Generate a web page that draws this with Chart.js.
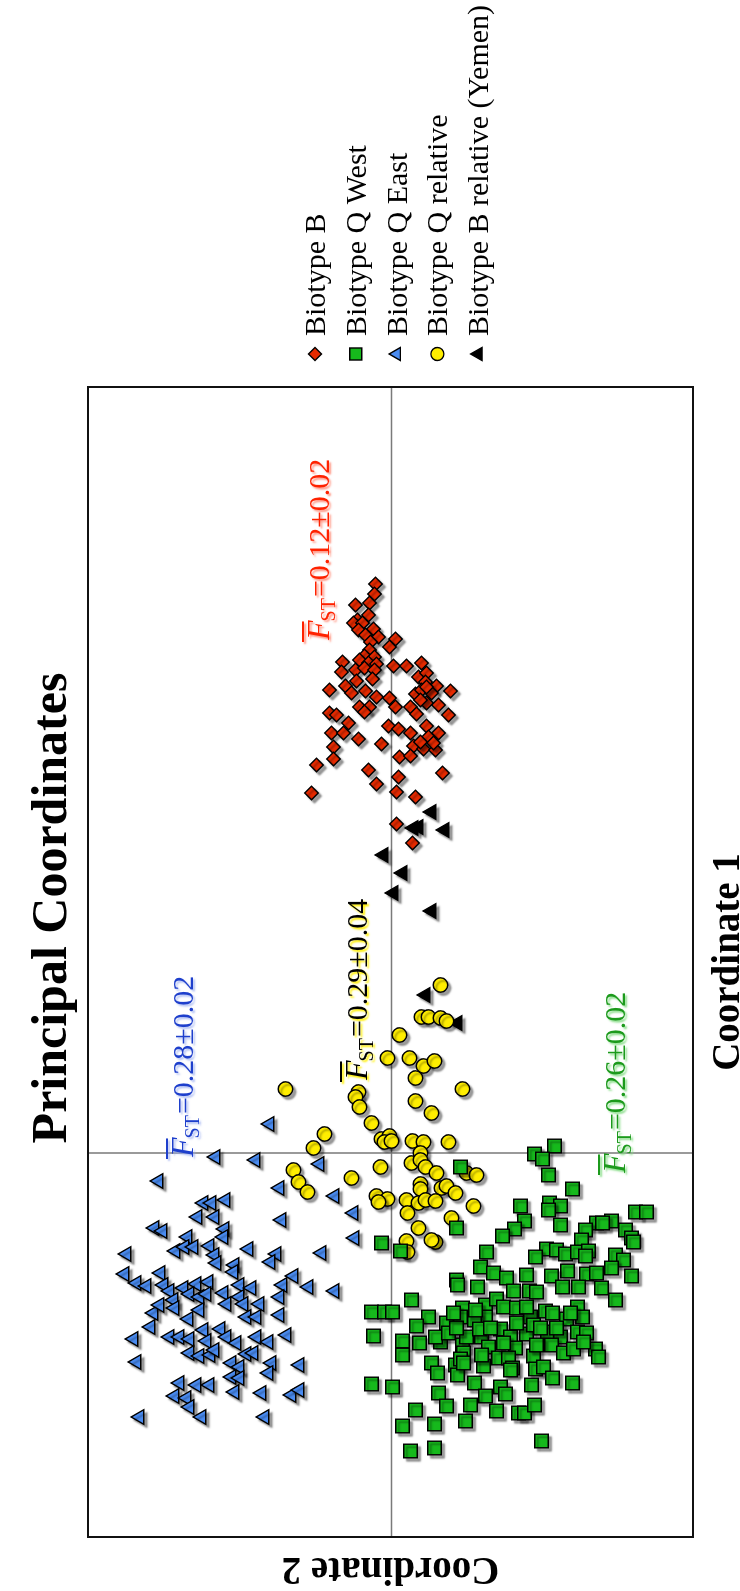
<!DOCTYPE html>
<html><head><meta charset="utf-8">
<script src="https://cdn.jsdelivr.net/npm/chart.js@4.4.1/dist/chart.umd.min.js"></script>
<style>
html,body{margin:0;padding:0;background:#fff;width:740px;height:1591px;overflow:hidden}
#wrap{position:absolute;left:0;top:0;width:1591px;height:740px;transform-origin:0 0;transform:translate(0,1591px) rotate(-90deg);}
canvas{display:block}
</style></head><body>
<div id="wrap"><canvas id="c" width="1591" height="740"></canvas></div>
<script>
// ---- data: [Coordinate 1, Coordinate 2] ----
const seriesNames = ['Biotype B','Biotype Q West','Biotype Q East','Biotype Q relative','Biotype B relative (Yemen)'];
const biotypeB = [[5.69,0.16],[5.59,0.17],[5.50,0.22],[5.48,0.36],[5.38,0.23],[5.33,0.34],[5.30,0.38],[5.30,0.29],[5.23,0.33],[5.24,0.18],[5.18,0.26],[5.16,0.13],[5.11,0.21],[5.14,-0.04],[5.06,0.02],[5.03,0.22],[4.97,0.27],[4.96,0.17],[4.93,0.32],[4.91,0.49],[4.90,0.23],[4.89,0.15],[4.87,-0.02],[4.87,-0.15],[4.90,-0.30],[4.81,0.50],[4.83,0.36],[4.85,0.27],[4.83,0.17],[4.74,0.19],[4.72,0.35],[4.67,0.46],[4.76,-0.27],[4.80,-0.35],[4.71,-0.34],[4.67,-0.45],[4.63,0.62],[4.60,0.40],[4.62,0.26],[4.56,0.15],[4.55,0.02],[4.59,-0.24],[4.63,-0.30],[4.60,-0.40],[4.62,-0.59],[4.46,0.32],[4.46,0.22],[4.46,-0.04],[4.46,-0.19],[4.50,-0.35],[4.48,-0.47],[4.40,0.62],[4.38,0.55],[4.41,0.27],[4.39,-0.25],[4.38,-0.57],[4.30,0.43],[4.20,0.60],[4.20,0.48],[4.27,0.03],[4.24,-0.07],[4.20,-0.19],[4.27,-0.35],[4.20,-0.47],[4.14,0.33],[4.09,0.10],[4.06,0.58],[4.07,-0.22],[4.16,-0.37],[4.04,-0.32],[4.03,-0.44],[3.96,-0.08],[3.97,-0.19],[3.94,0.58],[3.88,0.75],[3.83,0.23],[3.76,-0.07],[3.80,-0.51],[3.69,0.15],[3.61,-0.05],[3.56,-0.24],[3.60,0.80],[4.10,-0.42],[4.11,-0.29],[4.66,-0.35],[4.53,-0.29],[3.29,-0.05],[3.10,-0.21]];
const biotypeQWest = [[0.07,-1.63],[-0.01,-1.43],[-0.06,-1.51],[-0.22,-1.57],[-0.14,-0.69],[-0.36,-1.81],[-0.53,-1.29],[-0.50,-1.58],[-0.53,-1.69],[-0.57,-1.57],[-0.75,-0.65],[-0.68,-1.33],[-0.76,-1.23],[-0.83,-1.11],[-0.72,-1.69],[-0.59,-2.44],[-0.59,-2.55],[-0.70,-2.05],[-0.68,-2.20],[-0.70,-2.11],[-0.77,-2.34],[-0.77,-1.94],[-0.85,-2.40],[-0.89,-2.42],[-0.87,-1.90],[-0.90,0.10],[-0.98,-0.09],[-0.99,-0.95],[-0.96,-1.55],[-0.97,-1.65],[-1.01,-1.74],[-0.99,-1.86],[-0.98,-1.97],[-1.04,-1.44],[-1.02,-2.24],[-1.07,-2.32],[-1.03,-1.94],[-1.14,-0.89],[-1.20,-1.02],[-1.18,-1.76],[-1.21,-1.95],[-1.20,-2.05],[-1.15,-2.20],[-1.23,-2.40],[-1.22,-1.35],[-1.23,-1.60],[-1.27,-0.65],[-1.25,-1.15],
[-1.32,-0.66],[-1.34,-0.86],[-1.38,-1.22],[-1.38,-1.38],[-1.39,-1.45],[-1.34,-1.71],[-1.34,-1.87],[-1.35,-2.10],[-1.47,-2.24],[-1.47,-0.20],[-1.59,0.20],[-1.59,0.07],[-1.59,-0.01],[-1.64,-0.37],[-1.73,-0.25],[-1.70,-0.55],[-1.55,-0.71],[-1.64,-0.69],[-1.52,-0.94],[-1.46,-1.05],[-1.54,-1.12],[-1.64,-0.94],[-1.67,-0.83],[-1.55,-1.25],[-1.64,-1.39],[-1.58,-1.54],[-1.60,-1.61],[-1.54,-1.86],[-1.64,-1.91],[-1.66,-1.75],[-1.83,0.18],[-1.88,-0.11],[-1.90,-0.28],[-1.89,-0.49],[-1.84,-0.44],[-1.80,-0.57],[-1.92,-0.71],[-1.84,-0.75],[-1.84,-0.90],[-1.76,-0.88],[-1.94,-0.97],[-1.76,-1.09],[-1.84,-1.19],[-1.81,-1.35],[-1.72,-1.42],[-1.79,-1.56],[-1.84,-1.69],[-1.79,-1.86],[-1.80,-1.95],[-2.02,-0.11],[-2.00,-0.72],[-1.95,-1.24],[-1.92,-1.60],[-2.00,-1.72],[-1.96,-1.82],[-1.96,-2.04],[-2.04,-2.07],[-2.10,-0.40],[-2.20,-0.46],[-2.12,-0.64],[-2.06,-0.69],[-2.13,-0.92],[-2.05,-1.07],[-2.05,-1.17],[-2.15,-1.21],[-2.03,-1.42],[-2.16,-1.44],[-2.14,-1.52],[-2.25,-1.61],[-2.22,-0.66],[-2.30,-0.83],[-2.34,-1.09],[-2.41,-1.14],[-2.32,-1.40],[-2.30,-1.81],[-2.31,0.20],[-2.34,-0.01],[-2.40,-0.47],[-2.43,-0.94],[-2.52,-0.79],[-2.58,-1.05],[-2.53,-0.55],[-2.57,-0.24],[-2.60,-1.27],[-2.60,-1.33],[-2.52,-1.43],[-2.68,-0.74],[-2.71,-0.43],[-2.73,-0.11],[-2.88,-1.50],[-2.98,-0.19],[-2.95,-0.43],
[-1.75,-0.65],[-1.57,-0.84],[-1.75,-0.99],[-1.90,-1.12],[-1.70,-1.25],[-1.54,-1.35],[-1.75,-1.49],[-1.75,-1.65],[-1.60,-1.79],[-1.89,-1.92],[-1.92,-1.45],[-2.17,-1.19],[-2.02,-0.90],[-2.10,-0.72],[-1.60,-0.62]];
const biotypeQEast = [[0.29,1.22],[-0.04,1.76],[-0.07,1.36],[-0.11,0.72],[-0.28,2.33],[-0.35,1.12],[-0.50,1.88],[-0.50,1.80],[-0.47,1.66],[-0.64,1.94],[-0.64,1.77],[-0.67,1.10],[-0.75,2.37],[-0.78,2.29],[-0.76,1.67],[-0.84,2.04],[-0.84,1.68],[-1.01,2.65],[-0.98,2.16],[-0.94,2.07],[-0.94,1.98],[-0.93,1.82],[-1.02,1.77],[-0.96,1.43],[-1.01,1.15],[-1.09,1.21],[-1.00,0.70],[-1.10,1.75],[-1.12,1.57],[-1.19,1.58],[-1.21,2.67],[-1.20,2.31],[-1.30,2.55],[-1.33,2.45],[-1.32,2.28],[-1.38,2.22],[-1.35,2.08],[-1.31,1.95],[-1.29,1.83],[-1.41,2.02],[-1.40,1.68],[-1.32,1.52],[-1.35,1.40],[-1.23,0.98],[-1.32,1.09],[-1.34,0.83],[-1.44,1.12],[-1.47,2.18],[-1.44,1.92],[-1.41,1.85],[-1.44,1.52],[-1.60,2.38],[-1.52,2.32],[-1.55,2.17],[-1.57,1.92],[-1.51,1.65],[-1.51,1.48],[-1.51,1.32],[-1.64,1.45],[-1.64,1.35],[-1.62,1.12],[-1.66,2.03],[-1.74,2.41],[-1.86,2.58],[-1.84,2.22],[-1.84,2.12],[-1.86,2.02],[-1.77,1.88],[-1.76,1.71],[-1.88,1.85],[-1.84,1.65],[-1.90,1.55],[-1.84,1.35],[-1.89,1.23],[-1.82,1.05],[-2.00,2.02],[-2.03,1.92],[-2.02,1.81],[-1.97,1.77],[-2.01,1.45],[-2.00,1.38],[-2.09,2.55],[-2.10,1.60],[-2.14,1.52],[-2.10,1.20],[-2.12,0.92],[-2.20,1.23],[-2.24,1.60],[-2.25,1.52],[-2.30,2.12],[-2.32,1.95],[-2.32,1.82],[-2.39,1.57],[-2.40,1.30],[-2.42,1.00],[-2.37,0.92],[-2.43,2.17],[-2.45,2.05],[-2.54,2.02],[-2.64,2.52],[-2.64,1.90],[-2.64,1.27],[-0.43,0.57],[-0.60,0.38],[-0.85,0.37],[-1.38,0.57]];
const biotypeQRelative = [[1.68,-0.49],[1.36,-0.30],[1.36,-0.37],[1.35,-0.49],[1.32,-0.55],[1.18,-0.08],[0.95,0.04],[0.95,-0.18],[0.87,-0.32],[0.92,-0.43],[0.75,-0.24],[0.64,-0.71],[0.64,1.06],[0.61,0.33],[0.56,0.36],[0.46,0.32],[0.52,-0.24],[0.40,-0.40],[0.30,0.20],[0.19,0.67],[0.05,0.78],[0.14,0.10],[0.17,0.02],[0.11,0.07],[0.12,0.00],[0.12,-0.21],[0.11,-0.32],[0.11,-0.57],
[0.00,-0.29],[-0.10,-0.20],[-0.07,-0.29],[-0.14,-0.34],[-0.14,0.11],[-0.20,-0.45],[-0.20,-0.75],[-0.22,-0.85],[-0.25,0.40],[-0.31,-0.29],[-0.36,-0.29],[-0.35,-0.50],[-0.33,-0.55],[-0.40,-0.64],[-0.43,0.15],[-0.46,0.04],[-0.49,0.13],[-0.47,-0.15],[-0.50,-0.27],[-0.47,-0.34],[-0.48,-0.44],[-0.53,-0.82],[-0.60,-0.16],[-0.65,-0.60],[-0.75,-0.27],[-0.88,-0.15],[-0.99,-0.16],[-0.89,-0.44],[-0.87,-0.40],[-0.17,0.98],[-0.29,0.93],[-0.39,0.84]];
const biotypeBRelative = [[3.41,-0.40],[3.25,-0.22],[3.26,-0.27],[3.23,-0.53],[2.98,0.08],[2.80,-0.11],[2.60,-0.02],[2.42,-0.40],[1.58,-0.34],[1.30,-0.66]];
const fstLabels = ['=0.12\u00B10.02','=0.26\u00B10.02','=0.28\u00B10.02','=0.29\u00B10.04'];
const axisRange = {c1:[-3.84,7.66], c2:[-3.015,3.035]};

const styles = [
  {pointStyle:'rectRot', radius:6.8, color:'#E62A00'},
  {pointStyle:'rect', radius:9.6, color:'#16B91C'},
  {pointStyle:'triangle', radius:8.4, color:'#4A8CF2'},
  {pointStyle:'circle', radius:7.2, color:'#FFEE00'},
  {pointStyle:'triangle', radius:8.4, color:'#000000'}
];
const allSeries = [biotypeB, biotypeQWest, biotypeQEast, biotypeQRelative, biotypeBRelative];

const FONT = '"Liberation Serif","Times New Roman",serif';

function marker(ctx, style, x, y, r, fill){
  ctx.beginPath();
  if(style==='rectRot'){ctx.moveTo(x-r,y);ctx.lineTo(x,y-r);ctx.lineTo(x+r,y);ctx.lineTo(x,y+r);ctx.closePath();}
  else if(style==='rect'){const s=r*Math.SQRT1_2;ctx.rect(x-s,y-s,2*s,2*s);}
  else if(style==='triangle'){for(let i=0;i<3;i++){const a=i*2*Math.PI/3;const px=x+Math.sin(a)*r,py=y-Math.cos(a)*r;if(i)ctx.lineTo(px,py);else ctx.moveTo(px,py);}ctx.closePath();}
  else {ctx.arc(x,y,r,0,2*Math.PI);}
  ctx.fillStyle=fill;ctx.fill();ctx.lineWidth=1.4;ctx.strokeStyle='#000';ctx.stroke();
}

function fst(ctx, x, y, color, shadow, rest){
  ctx.save();
  ctx.fillStyle=color;
  ctx.shadowColor=shadow;ctx.shadowOffsetX=-2;ctx.shadowOffsetY=2;ctx.shadowBlur=2;
  ctx.textBaseline='alphabetic';ctx.textAlign='left';
  ctx.font='italic 32px '+FONT;
  ctx.fillText('F',x,y);
  const wF=ctx.measureText('F').width;
  ctx.fillRect(x-2,y-27,wF+1,2);
  ctx.font='20px '+FONT;
  ctx.fillText('ST',x+wF-1,y+6);
  const wS=ctx.measureText('ST').width;
  ctx.font='30px '+FONT;
  ctx.fillText(rest,x+wF-1+wS+1,y);
  ctx.restore();
}

const deco = {
  id:'deco',
  beforeDatasetsDraw(chart){
    const {ctx, chartArea:a, scales:{x,y}} = chart;
    ctx.save();
    ctx.strokeStyle='#7a7a7a';ctx.lineWidth=1.5;
    const x0=x.getPixelForValue(0), y0=y.getPixelForValue(0);
    ctx.beginPath();ctx.moveTo(x0,a.top);ctx.lineTo(x0,a.bottom);ctx.moveTo(a.left,y0);ctx.lineTo(a.right,y0);ctx.stroke();
    ctx.restore();
    ctx.save();
    ctx.shadowColor='rgba(0,0,0,0.38)';ctx.shadowOffsetX=-3;ctx.shadowOffsetY=3;ctx.shadowBlur=2;
  },
  afterDatasetsDraw(chart){
    const {ctx, chartArea:a, scales:{x,y}} = chart;
    ctx.restore();
    // frame
    ctx.save();
    ctx.strokeStyle='#111';ctx.lineWidth=2;
    ctx.strokeRect(a.left,a.top,a.right-a.left,a.bottom-a.top);
    ctx.restore();
    // F_ST annotations
    fst(ctx, x.getPixelForValue(5.13), y.getPixelForValue(0.625), '#FF2200', 'rgba(255,140,120,0.9)', fstLabels[0]);
    fst(ctx, x.getPixelForValue(-0.20), y.getPixelForValue(-2.335), '#1C9A1C', 'rgba(130,220,130,0.9)', fstLabels[1]);
    fst(ctx, x.getPixelForValue(-0.04), y.getPixelForValue(1.985), '#1E3FCC', 'rgba(150,170,240,0.7)', fstLabels[2]);
    fst(ctx, x.getPixelForValue(0.73), y.getPixelForValue(0.245), '#000000', 'rgba(255,240,0,1)', fstLabels[3]);
    // titles
    ctx.save();
    ctx.fillStyle='#000';ctx.textAlign='center';ctx.textBaseline='alphabetic';
    ctx.font='bold 50px '+FONT;
    ctx.fillText('Principal Coordinates', 683, 66);
    ctx.font='bold 39px '+FONT;
    ctx.fillText('Coordinate 1', 629, 739);
    ctx.translate(33, (a.top+a.bottom)/2);
    ctx.rotate(-Math.PI/2);
    ctx.fillText('Coordinate 2', 0, 0);
    ctx.restore();
    // legend
    ctx.save();
    ctx.font='30px '+FONT;ctx.fillStyle='#000';ctx.textAlign='left';ctx.textBaseline='alphabetic';
    const lr=[6.5,8.5,7.5,6.5,7.5];
    seriesNames.forEach((n,i)=>{
      const yy=315+i*40.8;
      marker(ctx, styles[i].pointStyle, 1237, yy, lr[i], styles[i].color);
      ctx.fillStyle='#000';
      ctx.fillText(n, 1255, yy+10);
    });
    ctx.restore();
  }
};

new Chart(document.getElementById('c'), {
  type:'scatter',
  data:{datasets: allSeries.map((s,i)=>({
    label: seriesNames[i],
    data: s.map(p=>({x:p[0], y:p[1]})),
    pointStyle: styles[i].pointStyle,
    pointRadius: styles[i].radius,
    pointHoverRadius: styles[i].radius,
    pointBackgroundColor: styles[i].color,
    backgroundColor: styles[i].color,
    pointBorderColor:'#000',
    borderColor:'#000',
    pointBorderWidth:1.4
  }))},
  options:{
    responsive:false, animation:false, devicePixelRatio:1,
    layout:{padding:{left:54, right:387, top:88, bottom:47}},
    plugins:{legend:{display:false}, title:{display:false}, tooltip:{enabled:false}},
    scales:{
      x:{type:'linear', display:false, min:axisRange.c1[0], max:axisRange.c1[1]},
      y:{type:'linear', display:false, min:axisRange.c2[0], max:axisRange.c2[1]}
    },
    events:[]
  },
  plugins:[deco]
});
</script></body></html>
